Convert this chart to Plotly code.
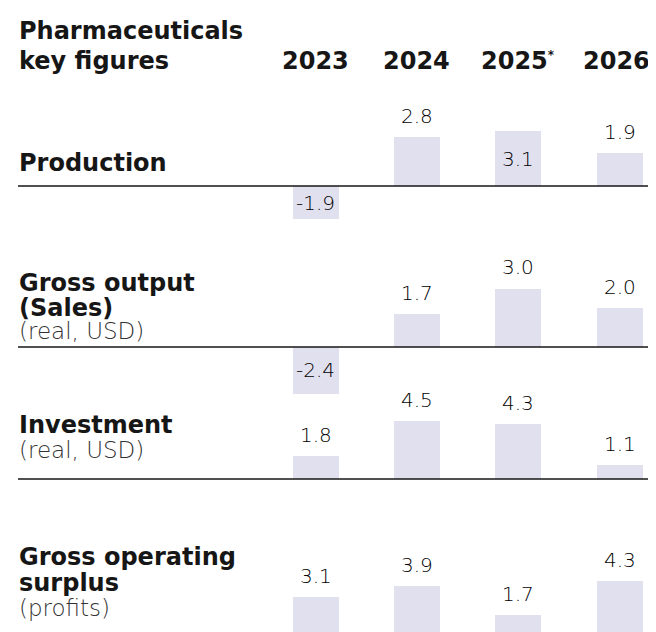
import plotly.graph_objects as go

# ---------------- data ----------------
years = ["2023", "2024", "2025", "2026"]
year_headers = ["2023", "2024", "2025*", "2026*"]
indicator_titles = [["Production"], ["Gross output", "(Sales)"], ["Investment"], ["Gross operating", "surplus"]]
indicator_notes = ["", "(real, USD)", "(real, USD)", "(profits)"]
production = [-1.9, 2.8, 3.1, 1.9]
gross_output = [-2.4, 1.7, 3.0, 2.0]
investment = [1.8, 4.5, 4.3, 1.1]
gross_operating_surplus = [3.1, 3.9, 1.7, 4.3]
series = [production, gross_output, investment, gross_operating_surplus]

# ---------------- styling / layout ----------------
W, H = 656, 632
OFF = 8  # page body margin of the exported html
BAR = "#e1e0ee"
INK = "#161616"
BOLD = "DejaVu Sans"
LIGHT = "DejaVu Sans"

# per row (page px): baseline, px per unit, top, bottom
rows_geo = [
    (186, 17.6, 92, 232),
    (347, 19.5, 236, 396),
    (479, 12.8, 396, 486),
    (637, 13.0, 536, 640),
]
# which value labels sit inside their bar
label_inside = [
    [True, False, True, False],
    [True, False, False, False],
    [False, False, False, False],
    [False, False, False, False],
]
title_line_px = [[163], [283, 308], [425], [557, 583]]
note_px = [None, 331, 450, 608]
lines_px = [186, 347, 479]
LEFT_PX = 18


def py(px):
    return 1 - (px - OFF) / H


def pxx(px):
    return (px - OFF) / W


def header_text(h):
    # small raised asterisk for forecast years
    if h.endswith("*"):
        return h[:-1] + "<sup><span style='font-size:12px'>*</span></sup>"
    return h


x_left_px = 265
slot_px = 101.3
x_range = [-0.5, -0.5 + (W + OFF - x_left_px) / slot_px]

fig = go.Figure()
layout_axes = {}
annotations = []
value_font = dict(family=LIGHT, size=20, color="#000000", weight=300)

for i, vals in enumerate(series):
    base, scale, top, bottom = rows_geo[i]
    yname = "y" if i == 0 else f"y{i+1}"
    yaxis_key = "yaxis" if i == 0 else f"yaxis{i+1}"
    fig.add_trace(go.Bar(
        x=list(range(len(years))), y=vals, xaxis="x", yaxis=yname,
        marker=dict(color=BAR, line=dict(width=0)), width=0.455,
        hoverinfo="skip", showlegend=False,
    ))
    lo = max(py(bottom), 0.0)
    bottom_eff = (1 - lo) * H + OFF
    layout_axes[yaxis_key] = dict(
        domain=[lo, py(top)],
        range=[-(bottom_eff - base) / scale, (base - top) / scale],
        visible=False, fixedrange=True, anchor="x",
    )
    for j, v in enumerate(vals):
        txt = f"{v:.1f}"
        if label_inside[i][j]:
            annotations.append(dict(x=j, y=v / 2, xref="x", yref=yname, text=txt,
                                    showarrow=False, xanchor="center", yanchor="middle",
                                    font=value_font))
        else:
            annotations.append(dict(x=j, y=v, xref="x", yref=yname, text=txt,
                                    showarrow=False, xanchor="center", yanchor="bottom",
                                    yshift=7, font=value_font))
    for k, line in enumerate(indicator_titles[i]):
        annotations.append(dict(x=pxx(LEFT_PX), y=py(title_line_px[i][k]), xref="paper", yref="paper",
                                text=line, showarrow=False, xanchor="left", yanchor="middle",
                                borderpad=0,
                                font=dict(family=BOLD, size=24, color=INK, weight=700)))
    if indicator_notes[i]:
        annotations.append(dict(x=pxx(LEFT_PX), y=py(note_px[i]), xref="paper", yref="paper",
                                text=indicator_notes[i], showarrow=False, xanchor="left",
                                yanchor="middle", borderpad=0,
                                font=dict(family=LIGHT, size=23, color="#333333", weight=300)))

# header
annotations.append(dict(x=pxx(LEFT_PX), y=py(31), xref="paper", yref="paper", text="Pharmaceuticals",
                        showarrow=False, xanchor="left", yanchor="middle", borderpad=0,
                        font=dict(family=BOLD, size=24, color=INK, weight=700)))
annotations.append(dict(x=pxx(LEFT_PX), y=py(61), xref="paper", yref="paper", text="key figures",
                        showarrow=False, xanchor="left", yanchor="middle", borderpad=0,
                        font=dict(family=BOLD, size=24, color=INK, weight=700)))
for j, h in enumerate(year_headers):
    annotations.append(dict(x=j, y=py(61), xref="x", yref="paper", text=header_text(h),
                            showarrow=False, xanchor="center", yanchor="middle", borderpad=0,
                            font=dict(family=BOLD, size=24, color=INK, weight=700)))

shapes = [dict(type="line", xref="paper", yref="paper", x0=pxx(LEFT_PX), x1=1,
               y0=py(p), y1=py(p), line=dict(color=INK, width=1.5)) for p in lines_px]

fig.update_layout(
    width=W, height=H, margin=dict(l=0, r=0, t=0, b=0),
    paper_bgcolor="white", plot_bgcolor="rgba(0,0,0,0)",
    xaxis=dict(domain=[pxx(x_left_px), 1], range=x_range, visible=False, fixedrange=True),
    annotations=annotations, shapes=shapes, bargap=0,
    **layout_axes,
)

fig.write_html("out.html")
